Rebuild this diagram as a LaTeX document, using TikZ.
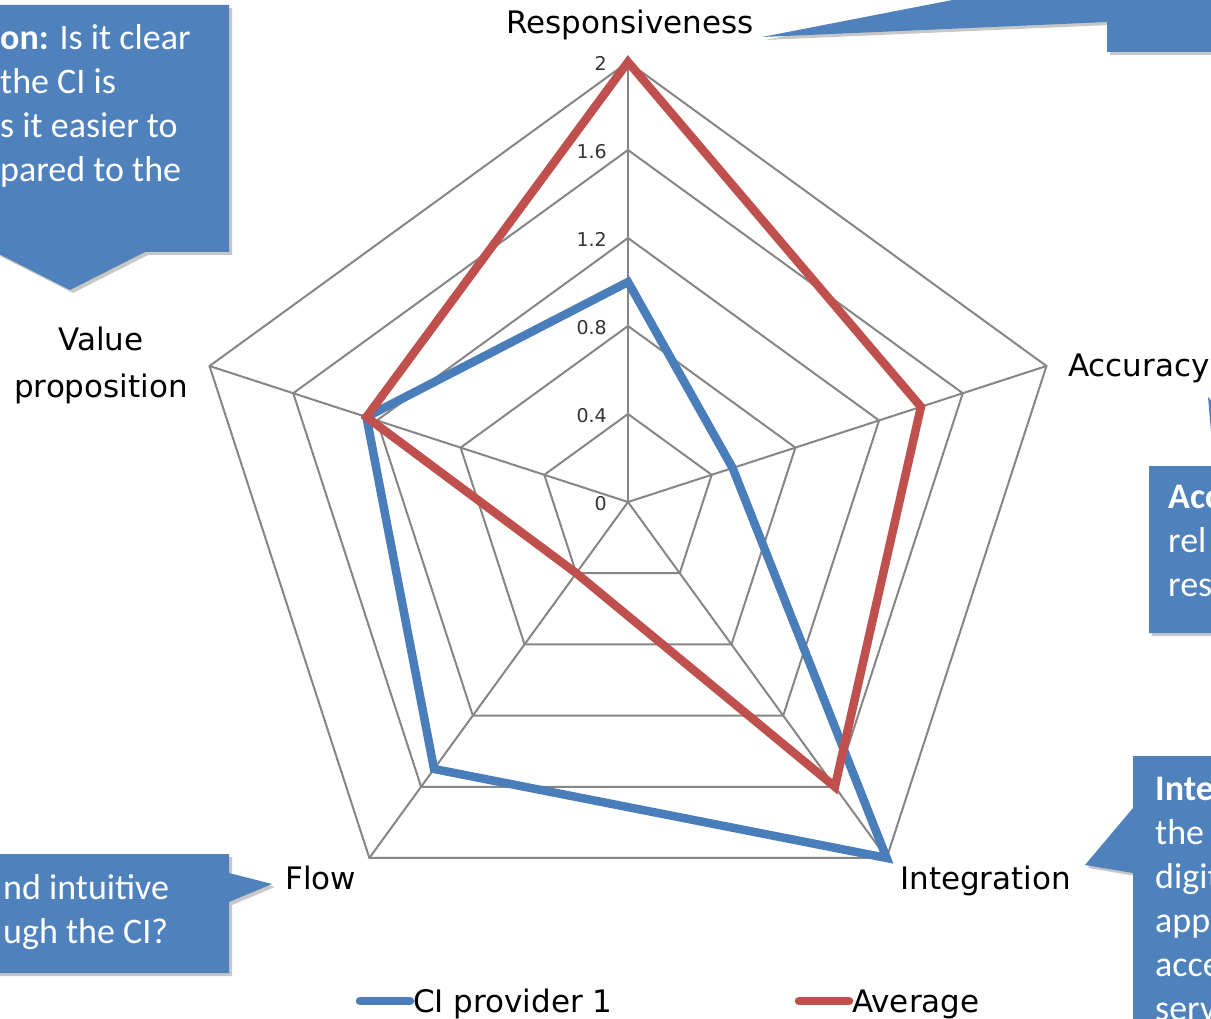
\documentclass[tikz,border=0pt]{standalone}
\usepackage{fontspec}
\setmainfont{Carlito}
\newfontfamily\chartfont{DejaVu Sans}
\usetikzlibrary{shadows}
\definecolor{callblue}{RGB}{79,129,189}
\definecolor{serblue}{RGB}{74,126,187}
\definecolor{serred}{RGB}{192,80,77}
\definecolor{gridgray}{RGB}{134,134,134}
\tikzset{
  callout/.style={fill=callblue, drop shadow={shadow xshift=3pt, shadow yshift=-3pt, opacity=0.22, fill=black}},
  calltext/.style={text=white, font=\fontsize{36}{44}\selectfont, align=left, inner sep=0pt, anchor=north west},
  axislabel/.style={font=\chartfont\fontsize{31}{47}\selectfont, inner sep=0pt, text=black},
  ticklabel/.style={font=\chartfont\fontsize{19}{22}\selectfont, inner sep=0pt, text=black!80, anchor=east},
  gridline/.style={draw=gridgray, line width=2pt},
  series/.style={line width=8.5pt, line join=miter},
  legendline/.style={line width=8.5pt, line cap=round},
}
\begin{document}
\begin{tikzpicture}[x=1pt,y=1pt]
\useasboundingbox (0,0) rectangle (1211,-1019);
\clip (0,0) rectangle (1211,-1019);
\fill[white] (0,0) rectangle (1211,-1019);

% ---------- radar chart ----------
\coordinate (C) at (628,-502);
\begin{scope}[shift={(C)}]
  \foreach \l [evaluate=\l as \r using 88*\l] in {1,...,5}
    \draw[gridline] (90:\r) -- (18:\r) -- (-54:\r) -- (-126:\r) -- (162:\r) -- cycle;
  \coordinate (axR) at (90:440);
  \coordinate (axA) at (18:440);
  \coordinate (axI) at (-54:440);
  \coordinate (axF) at (-126:440);
  \coordinate (axV) at (162:440);
  \foreach \v/\t in {0/0,1/0.4,2/0.8,3/1.2,4/1.6,5/2}
    \node[ticklabel] (tick\v) at (-21,{88*\v-1.5}) {\t};
  % series points
  \coordinate (bR) at (90:220);
  \coordinate (bA) at (18:110);
  \coordinate (bI) at (-54:440);
  \coordinate (bF) at (-126:330);
  \coordinate (bV) at (162:275);
  \coordinate (rR) at (90:440);
  \coordinate (rA) at (18:308);
  \coordinate (rI) at (-54:352);
  \coordinate (rF) at (-126:88);
  \coordinate (rV) at (162:275);
\end{scope}
\foreach \a in {axR,axA,axI,axF,axV}
  \draw[gridline] (C) -- (\a);

\draw[series, serblue] (bR) -- (bA) -- (bI) -- (bF) -- (bV) -- cycle;
\draw[series, serred] (rR) -- (rA) -- (rI) -- (rF) -- (rV) -- cycle;

% axis labels
\node[axislabel, anchor=base] (labR) at (630,-34) {Responsiveness};
\node[axislabel, anchor=base west] (labA) at (1068,-376) {Accuracy};
\node[axislabel, anchor=base west] (labI) at (900,-889) {Integration};
\node[axislabel, anchor=base west] (labF) at (285,-889) {Flow};
\node[axislabel, anchor=north, align=center] (labV) at (101,-327) {Value\\proposition};

% legend
\coordinate (lgb1) at (360,-1001);
\coordinate (lgb2) at (410,-1001);
\coordinate (lgr1) at (799,-1001);
\coordinate (lgr2) at (849,-1001);
\draw[legendline, serblue] (lgb1) -- (lgb2);
\draw[legendline, serred] (lgr1) -- (lgr2);
\node[axislabel, anchor=base west] (legB) at (413,-1012) {CI provider 1};
\node[axislabel, anchor=base west] (legR) at (852,-1012) {Average};

% ---------- callouts ----------
% value proposition (top left)
\path[callout] (-10,-5) -- (229,-5) -- (229,-252) -- (145,-252) -- (70,-290) -- (-5,-252) -- (-10,-252) -- cycle;
\node[calltext] (cVtext) at (0,-24) {\textbf{on:} Is it clear\\the CI is\\s it easier to\\pared to the};

% responsiveness (top right)
\path[callout] (1107,40) -- (1240,40) -- (1240,-52) -- (1107,-52) -- (1107,-22) -- (762,-37) -- (1107,30) -- cycle;

% accuracy (right)
\path[callout] (1149,-466) -- (1214,-466) -- (1208,-397) -- (1270,-466) -- (1280,-466) -- (1280,-633) -- (1149,-633) -- cycle;
\node[calltext] (cAtext) at (1168,-485) {\textbf{Acc}\\rel\\res};

% integration (bottom right)
\path[callout] (1133,-756) -- (1280,-756) -- (1280,-1060) -- (1133,-1060) -- (1133,-873) -- (1085,-865) -- (1133,-808) -- cycle;
\node[calltext] (cItext) at (1155,-777) {\textbf{Inte}\\the\\digit\\app\\acce\\serv};

% flow (bottom left)
\path[callout] (-10,-854) -- (229,-854) -- (229,-873) -- (272,-884) -- (229,-902) -- (229,-973) -- (-10,-973) -- cycle;
\node[calltext] (cFtext) at (3,-874) {nd intuitive\\ugh the CI?};
\end{tikzpicture}
\end{document}
